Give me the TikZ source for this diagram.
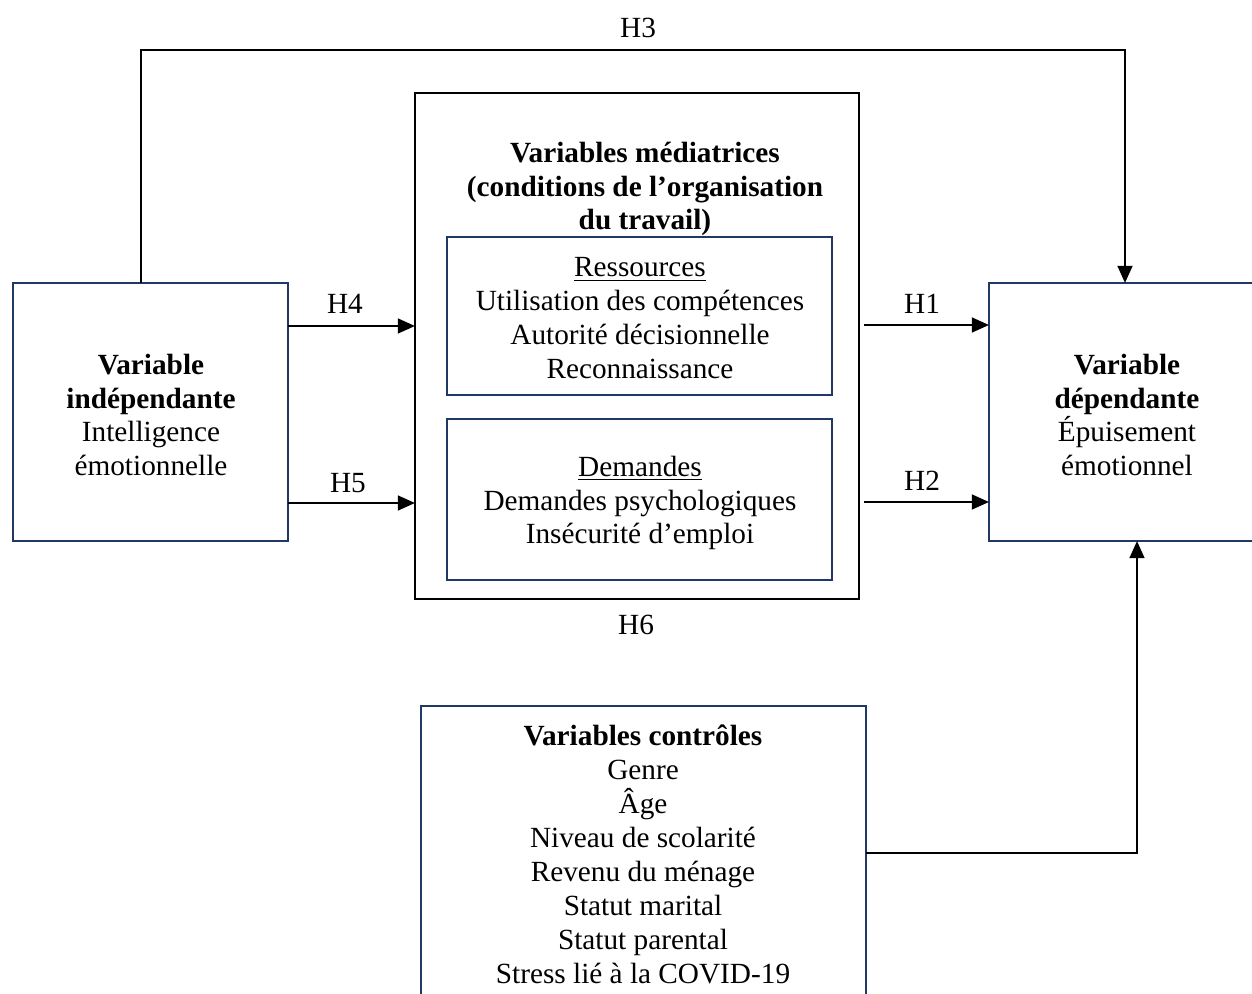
\documentclass[tikz,border=0pt]{standalone}
\usepackage{fontspec}
\setmainfont{Liberation Serif}
\usetikzlibrary{arrows.meta}
\definecolor{navy}{HTML}{1F3864}
\begin{document}
\begin{tikzpicture}[x=0.41pt,y=-0.41pt,
  txt/.style={font=\fontsize{12}{13.9}\selectfont, align=center, inner sep=0pt},
  navybox/.style={draw=navy, line width=0.8pt, inner sep=0pt, outer sep=0pt, txt},
  blackbox/.style={draw=black, line width=1pt, inner sep=0pt, outer sep=0pt},
  arr/.style={line width=1pt, -{Triangle[length=7pt,width=6pt]}},
  lbl/.style={txt}]
\useasboundingbox (0,0) rectangle (1252,994);
\clip (0,0) rectangle (1252,994);
% boxes
\node[navybox, minimum width=275*0.41pt, minimum height=258*0.41pt] (indep) at (150.5,412) {};
\node[txt] (indeptxt) at (151,415) {\textbf{Variable}\\\textbf{indépendante}\\Intelligence\\émotionnelle};
\node[blackbox, minimum width=444*0.41pt, minimum height=506*0.41pt] (med) at (637,346) {};
\node[txt] (medtitle) at (645,189) {\textbf{Variables médiatrices}\\\textbf{(conditions de l’organisation}\\\textbf{du travail)}};
\node[navybox, minimum width=385*0.41pt, minimum height=158*0.41pt] (res) at (639.5,316) {};
\node[txt] (restxt) at (640,318) {\underline{Ressources}\\Utilisation des compétences\\Autorité décisionnelle\\Reconnaissance};
\node[navybox, minimum width=385*0.41pt, minimum height=161*0.41pt] (dem) at (639.5,499.5) {};
\node[txt] (demtxt) at (640,503) {\underline{Demandes}\\Demandes psychologiques\\Insécurité d’emploi};
\node[navybox, minimum width=273*0.41pt, minimum height=258*0.41pt] (dep) at (1125.5,412) {};
\node[txt] (deptxt) at (1127,415) {\textbf{Variable}\\\textbf{dépendante}\\Épuisement\\émotionnel};
\node[navybox, minimum width=445*0.41pt, minimum height=298*0.41pt] (ctrl) at (643.5,855) {};
\node[txt] (ctrltxt) at (643,854.5) {\textbf{Variables contrôles}\\Genre\\Âge\\Niveau de scolarité\\Revenu du ménage\\Statut marital\\Statut parental\\Stress lié à la COVID-19};
% helper coordinates
\coordinate (h3l) at (141,50);
\coordinate (h3r) at (1125,50);
\coordinate (y4) at (0,326);
\coordinate (y5) at (0,503);
\coordinate (y1) at (0,325);
\coordinate (y2) at (0,502);
\coordinate (cc) at (1137,853);
% connectors
\draw[arr] (indep.north -| h3l) -- (h3l) -- (h3r) -- (dep.north -| h3r);
\draw[arr] (indep.east |- y4) -- (med.west |- y4);
\draw[arr] (indep.east |- y5) -- (med.west |- y5);
\draw[arr] ([xshift=2pt]med.east |- y1) -- (dep.west |- y1);
\draw[arr] ([xshift=2pt]med.east |- y2) -- (dep.west |- y2);
\draw[arr] (ctrl.east |- cc) -- (cc) -- (cc |- dep.south);
% labels
\node[lbl] (lh3) at (638,28) {H3};
\node[lbl] (lh4) at (345,304) {H4};
\node[lbl] (lh5) at (348,483) {H5};
\node[lbl] (lh1) at (922,304) {H1};
\node[lbl] (lh2) at (922,481) {H2};
\node[lbl] (lh6) at (636,625) {H6};
\end{tikzpicture}
\end{document}
